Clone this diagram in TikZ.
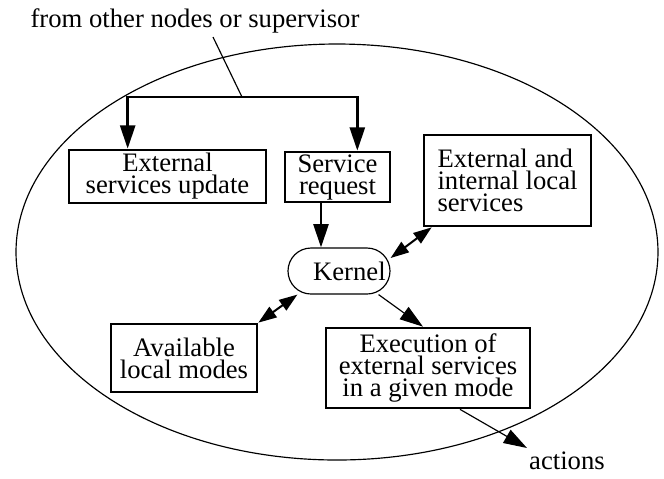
\documentclass[tikz,border=0pt]{standalone}
\usepackage{fontspec}
\setmainfont{Liberation Serif}
\usetikzlibrary{arrows.meta}

\begin{document}
\begin{tikzpicture}[x=0.3pt,y=-0.3pt,
  every node/.style={font=\fontsize{8}{6.6}\selectfont, inner sep=0pt},
  box/.style={draw, line width=0.8pt, align=center},
  kernelbox/.style={draw, line width=0.35pt, rounded corners=6.9pt,
    minimum width=30.6pt, minimum height=13.8pt,
    text width=28pt, inner xsep=1.3pt, align=right},
  bus/.style={line width=0.8pt, -{Triangle[length=7pt,width=4.5pt]}},
  link/.style={line width=0.35pt, -{Triangle[length=7pt,width=4.5pt]}},
  dual/.style={line width=0.6pt, {Triangle[length=5.5pt,width=3.8pt]}-{Triangle[length=5.5pt,width=3.8pt]}}]

\useasboundingbox (0,0) rectangle (664,478);

% ( the ellipse is the node; all boxes sit inside it )
\draw[line width=0.35pt] (337,252) ellipse [x radius=96.3pt, y radius=62.4pt];

\path
(195,21) node(from){from other nodes or supervisor}
(167.5,176.5) node[box, minimum width=59.1pt, minimum height=15.9pt](esu){External\\services update}
(337.5,177) node[box, minimum width=31.5pt, minimum height=15pt](sr){Service\\request}
(507.5,180.5) node[box, align=left, minimum width=50.1pt, minimum height=27.3pt](eils){External and\\internal local\\services}
(339,271) node[kernelbox](kernel){Kernel}
(184,358) node[box, minimum width=43.8pt, minimum height=20.4pt](avail){Available\\local modes}
(428,368) node[box, minimum width=61.2pt, minimum height=24pt](exec){Execution of\\external services\\in a given mode}
(567,461) node(actions){actions};

\path
(213,37) coordinate(tap) (242,97) coordinate(fork)
(527,448) coordinate(out);

\draw[line width=0.35pt] (tap) -- (fork);
\draw[bus] (fork) -| ([xshift=18pt]esu.north west);
\draw[bus] (fork) -| ([xshift=-10.2pt]sr.north east);
\draw[bus] ([xshift=-4.95pt]sr.south) -- ([xshift=-4.95pt]sr.south |- kernel.north);
\draw[dual] ([yshift=3.9pt]kernel.east) -- ([xshift=2.7pt]eils.south west);
\draw[dual] ([xshift=3pt]kernel.south west) -- (avail.north east);
\draw[link] ([xshift=-3.6pt]kernel.south east) -- ([xshift=-1.5pt]exec.north);
\draw[link] ([xshift=9.6pt]exec.south) -- (out);
\end{tikzpicture}
\end{document}
